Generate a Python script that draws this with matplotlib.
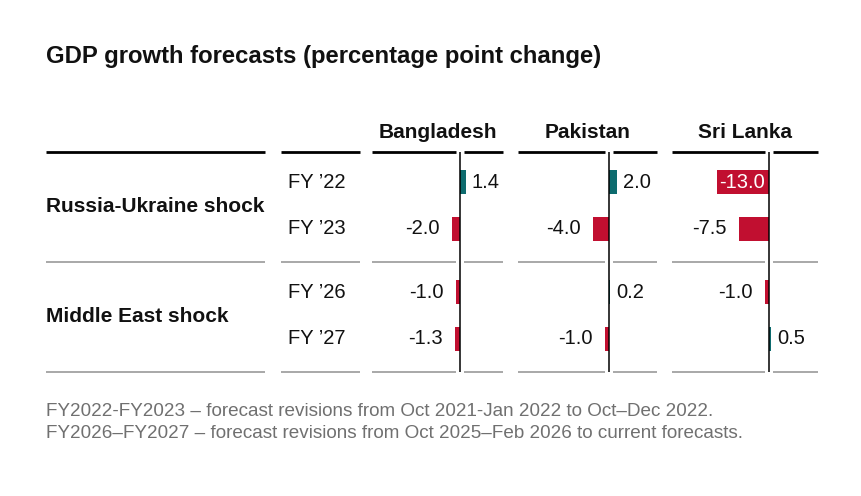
import matplotlib.pyplot as plt

# --- data ---
countries = ["Bangladesh", "Pakistan", "Sri Lanka"]
years = ["FY \u201922", "FY \u201923", "FY \u201926", "FY \u201927"]
shocks = ["Russia-Ukraine shock", "Middle East shock"]
bangladesh = [1.4, -2.0, -1.0, -1.3]
pakistan = [2.0, -4.0, 0.2, -1.0]
sri_lanka = [-13.0, -7.5, -1.0, 0.5]
notes = [
    "FY2022-FY2023 \u2013 forecast revisions from Oct 2021-Jan 2022 to Oct\u2013Dec 2022.",
    "FY2026\u2013FY2027 \u2013 forecast revisions from Oct 2025\u2013Feb 2026 to current forecasts.",
]

# --- layout (pixels on an 862x496 canvas) ---
W, H = 862, 496
POS_C = "#0d6b6e"
NEG_C = "#c10f30"
GRAY = "#9a9a9a"
INK = "#111111"
row_y = [182, 229, 292, 339]
top_y, mid_y, bot_y = 152, 262, 372
px_per_unit = 4.0
# left edge, zero line, right edge of each country panel
panels = [(372, 460, 503), (518, 609, 657), (672, 769, 818)]

plt.rcParams["font.family"] = ["Liberation Sans", "DejaVu Sans"]

fig = plt.figure(figsize=(W / 100, H / 100), dpi=100)
fig.patch.set_facecolor("white")

base = fig.add_axes([0, 0, 1, 1])
base.set_xlim(0, W)
base.set_ylim(H, 0)
base.axis("off")

base.text(46, 57, "GDP growth forecasts (percentage point change)",
          fontsize=17.2, fontweight="bold", va="center", ha="left", color=INK)

# left-side rule segments
for x0, x1 in [(46, 265), (281, 360)]:
    base.plot([x0, x1], [top_y, top_y], color="black", lw=2.0, solid_capstyle="butt")
    for yy in (mid_y, bot_y):
        base.plot([x0, x1], [yy, yy], color=GRAY, lw=1.2, solid_capstyle="butt")

# group and year labels
base.text(46, (row_y[0] + row_y[1]) / 2 + 1, shocks[0], fontsize=15, fontweight="bold",
          va="center", ha="left", color=INK)
base.text(46, (row_y[2] + row_y[3]) / 2 + 1, shocks[1], fontsize=15, fontweight="bold",
          va="center", ha="left", color=INK)
for y, lab in zip(row_y, years):
    base.text(288, y, lab, fontsize=14.5, va="center", ha="left", color=INK)

for i, t in enumerate(notes):
    base.text(46, 412 + 22 * i, t, fontsize=13.6, va="center", ha="left", color="#707070")

# country panels
for (L, Z, R), name, vals in zip(panels, countries, [bangladesh, pakistan, sri_lanka]):
    ax = fig.add_axes([L / W, 1 - bot_y / H, (R - L) / W, (bot_y - top_y) / H])
    ax.set_xlim((L - Z) / px_per_unit, (R - Z) / px_per_unit)
    ax.set_ylim(bot_y, top_y)
    ax.axis("off")
    ax.patch.set_alpha(0)

    colors = [POS_C if v >= 0 else NEG_C for v in vals]
    ax.barh(row_y, vals, height=24, color=colors, zorder=2)
    ax.axvline(0, color="black", lw=1.1, zorder=3)

    gap = 6 / px_per_unit
    for y, v in zip(row_y, vals):
        txt = f"{v:.1f}"
        if v >= 0:
            ax.text(v + gap, y, txt, fontsize=14.5, va="center", ha="left", color=INK)
        elif abs(v) >= 10:
            ax.text(v / 2 - 0.3, y, txt, fontsize=14.5, va="center", ha="center", color="white")
        else:
            ax.text(v - 2 * gap, y, txt, fontsize=14.5, va="center", ha="right", color=INK)

    # header and split rules around the zero line
    base.text((L + R) / 2, 133, name, fontsize=15, fontweight="bold",
              va="center", ha="center", color=INK)
    for x0, x1 in [(L, Z - 4), (Z + 4, R)]:
        base.plot([x0, x1], [top_y, top_y], color="black", lw=2.0, solid_capstyle="butt")
        for yy in (mid_y, bot_y):
            base.plot([x0, x1], [yy, yy], color=GRAY, lw=1.2, solid_capstyle="butt")

fig.savefig("out.png", dpi=100, facecolor="white")
